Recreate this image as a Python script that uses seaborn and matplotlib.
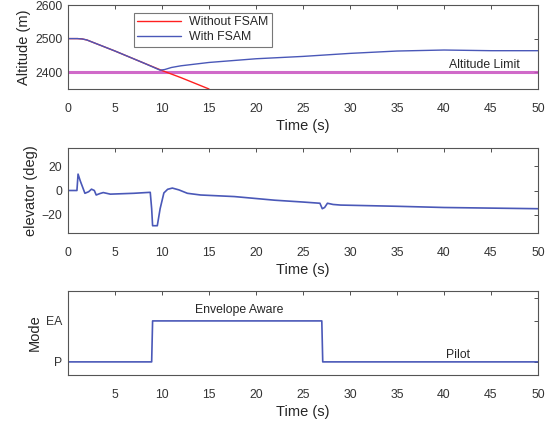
import numpy as np
import matplotlib
matplotlib.use("Agg")
import matplotlib.pyplot as plt
import pandas as pd
import seaborn as sns

# altitude (m) with and without FSAM
t_without = [0, 1, 1.5, 2, 5, 8, 10, 12, 15]
alt_without = [2500, 2500, 2499, 2496, 2463, 2428, 2405, 2384, 2350]
t_with = [0, 1, 1.5, 2, 5, 8, 9.8, 10.3, 11, 12, 15, 20, 25, 30, 35, 40, 45, 50]
alt_with = [2500, 2500, 2499, 2496, 2463, 2428, 2406, 2408, 2414, 2419, 2429, 2440, 2447, 2456, 2463, 2466, 2464, 2464]
alt_limit = 2400

# elevator (deg)
t_elev = [0, 0.95, 1.07, 1.3, 1.8, 2.2, 2.5, 2.8, 3.0, 3.4, 3.75, 4.5, 7, 8.75, 8.9, 9.0, 9.5, 9.8,
          10.2, 10.6, 11.1, 11.8, 12.7, 14.1, 17.7, 22, 25, 26.8, 27.05, 27.3, 27.6, 28.2, 29,
          35, 40, 45, 50]
elev = [0, 0, 13.5, 8, -2.3, -1, 1.1, 0, -3.7, -2.5, -1.7, -3, -2.3, -1.5, -15, -29, -29, -15,
        -2, 1, 2, 0.5, -2.3, -3.7, -5, -8, -9.5, -10.5, -15, -14, -10.5, -11.5, -12,
        -13, -14, -14.5, -15]

# mode: 0 = Pilot, 1 = Envelope Aware
t_mode = [0, 8.9, 8.95, 9.0, 27.0, 27.05, 27.1, 50]
mode = [0, 0, 0.5, 1, 1, 0.5, 0, 0]

sns.set_theme(style="white")
plt.rcParams['font.family'] = ['Liberation Sans', 'DejaVu Sans']
plt.rcParams['axes.edgecolor'] = '#555555'
plt.rcParams['xtick.direction'] = 'in'
plt.rcParams['ytick.direction'] = 'in'

red = '#ff2020'
blue = '#4a58b8'
magenta = '#c850c0'
tfs = 8.8
lfs = 10.5

fig = plt.figure(figsize=(5.52, 4.24), dpi=100)
L, W = 68 / 552, 470 / 552
ax1 = fig.add_axes([L, 1 - 89 / 424, W, 84 / 424])
ax2 = fig.add_axes([L, 1 - 233 / 424, W, 85 / 424])
ax3 = fig.add_axes([L, 1 - 375 / 424, W, 84 / 424])

# top panel
ax1.axhline(alt_limit, color=magenta, lw=2.2, alpha=0.85, zorder=1)
sns.lineplot(x=t_without, y=alt_without, ax=ax1, color=red, lw=1, label='Without FSAM', sort=False)
sns.lineplot(x=t_with, y=alt_with, ax=ax1, color=blue, lw=1, label='With FSAM', sort=False)
ax1.set_xlim(0, 50)
ax1.set_ylim(2350, 2600)
ax1.set_yticks([2400, 2500, 2600])
ax1.set_xticks(range(0, 51, 5))
ax1.set_ylabel('Altitude (m)', fontsize=lfs, labelpad=3)
ax1.set_xlabel('Time (s)', fontsize=lfs, labelpad=3)
ax1.text(44.3, 2403, 'Altitude Limit', fontsize=tfs, ha='center', va='bottom')
leg = ax1.legend(loc='upper left', bbox_to_anchor=(0.127, 0.98), fontsize=tfs, frameon=True,
                 fancybox=False, edgecolor='#555555', handlelength=3.6, borderpad=0.3,
                 labelspacing=0.2, handletextpad=0.6)
leg.get_frame().set_linewidth(0.8)

# middle panel
sns.lineplot(x=t_elev, y=elev, ax=ax2, color=blue, lw=1.2, sort=False)
ax2.set_xlim(0, 50)
ax2.set_ylim(-35, 35)
ax2.set_yticks([-20, 0, 20])
ax2.set_xticks(range(0, 51, 5))
ax2.set_ylabel('elevator (deg)', fontsize=lfs, labelpad=3)
ax2.set_xlabel('Time (s)', fontsize=lfs, labelpad=3)

# bottom panel
sns.lineplot(x=t_mode, y=mode, ax=ax3, color=blue, lw=1.2, sort=False)
ax3.set_xlim(0, 50)
ax3.set_ylim(-0.32, 1.73)
ax3.set_yticks([0, 1, 1.57])
ax3.set_yticklabels(['P', 'EA', ''])
ax3.set_xticks(range(5, 51, 5))
ax3.set_ylabel('Mode', fontsize=lfs, labelpad=3)
ax3.set_xlabel('Time (s)', fontsize=lfs, labelpad=3)
ax3.text(18.2, 1.13, 'Envelope Aware', fontsize=tfs, ha='center', va='bottom')
ax3.text(41.5, 0.03, 'Pilot', fontsize=tfs, ha='center', va='bottom')

for ax in (ax1, ax2, ax3):
    ax.tick_params(labelsize=tfs, length=3, width=0.6, colors='#333333', top=True, right=True,
                   labeltop=False, labelright=False, pad=4)
    ax.tick_params(axis='x', pad=10)
    for s in ax.spines.values():
        s.set_linewidth(0.8)

fig.savefig('out.png', dpi=100)
